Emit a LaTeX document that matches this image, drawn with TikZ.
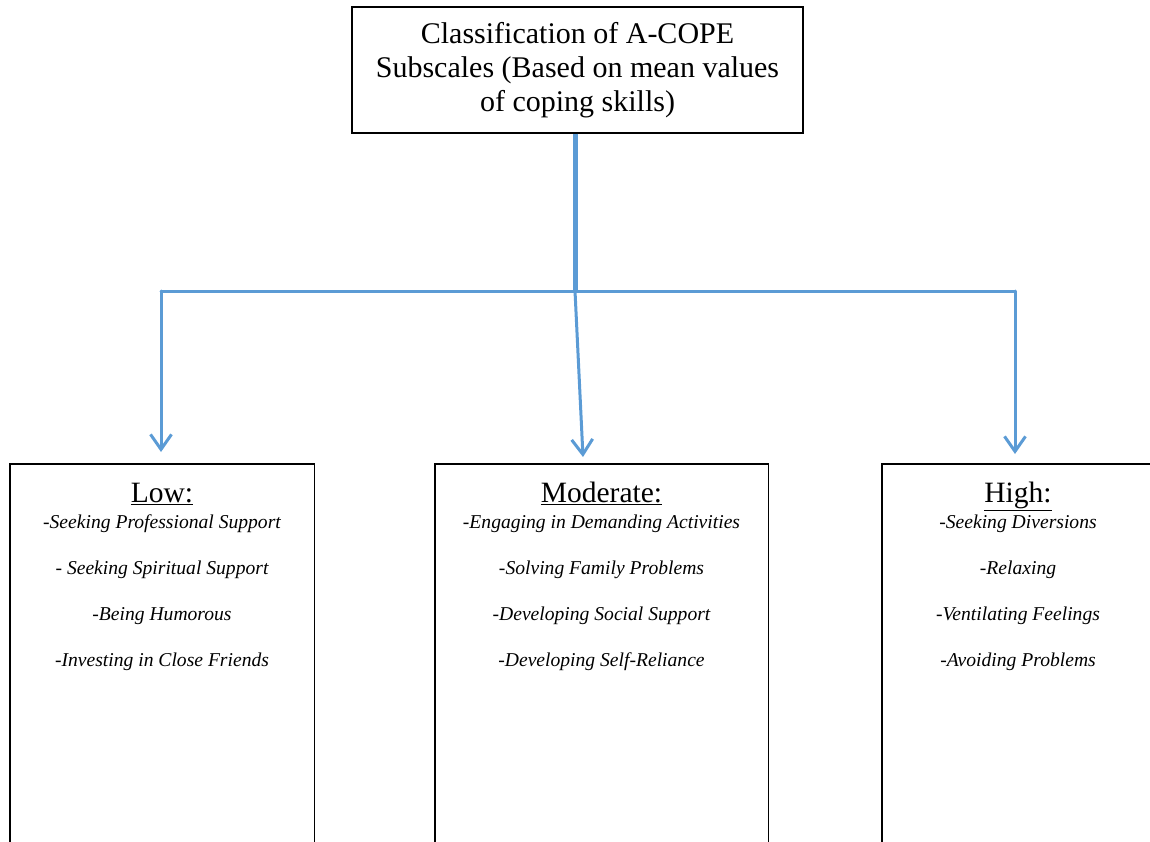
\documentclass[tikz,border=0pt]{standalone}
\usepackage{fontspec}
\setmainfont{Liberation Serif}
\usetikzlibrary{arrows.meta}
\definecolor{wblue}{RGB}{91,155,213}
\begin{document}
\begin{tikzpicture}[x=1pt,y=-1pt,
  boxline/.style={draw=black,line width=1.3pt},
  conn/.style={draw=wblue,line width=3pt,line cap=round,line join=round},
  trunk/.style={draw=wblue,line width=5pt},
  arr/.style={conn,-{Straight Barb[length=15pt,width=21pt,line width=3pt]}},
  headtxt/.style={anchor=base,inner sep=0pt,font=\fontsize{29.5}{34}\selectfont},
  itemtxt/.style={anchor=base,inner sep=0pt,font=\fontsize{19.6}{23}\selectfont\itshape},
  holder/.style={anchor=north west,inner sep=0pt,minimum height=378pt}]
\useasboundingbox (0,0) rectangle (1150,842);
% top box
\node[boxline,minimum width=451pt,minimum height=126pt,align=center,inner sep=0pt,
      font=\fontsize{30}{34}\selectfont] (top) at (577.5,70)
  {Classification of A-COPE\\Subscales (Based on mean values\\of coping skills)};
% lower boxes (open at the bottom, cut by the page edge)
\node[holder,minimum width=304pt] (low) at (10,464) {};
\node[holder,minimum width=333pt] (mod) at (435,464) {};
\node[holder,minimum width=300pt] (high) at (882,464) {};
\draw[boxline] (low.south west) -- (low.north west) -- (low.north east) -- (low.south east);
\draw[boxline] (mod.south west) -- (mod.north west) -- (mod.north east) -- (mod.south east);
\draw[boxline] (high.south west) -- (high.north west) -- (high.north east);
% headings
\node[headtxt] (lowh) at (162,502) {\underline{Low:}};
\node[headtxt] (modh) at (601.5,502) {\underline{Moderate:}};
\node[headtxt] (highh) at (1018,502) {\underline{High:}};
% items
\node[itemtxt] (l1) at (162,528) {-Seeking Professional Support};
\node[itemtxt] (l2) at (162,574) {- Seeking Spiritual Support};
\node[itemtxt] (l3) at (162,620) {-Being Humorous};
\node[itemtxt] (l4) at (162,666) {-Investing in Close Friends};
\node[itemtxt] (m1) at (601.5,528) {-Engaging in Demanding Activities};
\node[itemtxt] (m2) at (601.5,574) {-Solving Family Problems};
\node[itemtxt] (m3) at (601.5,620) {-Developing Social Support};
\node[itemtxt] (m4) at (601.5,666) {-Developing Self-Reliance};
\node[itemtxt] (h1) at (1018,528) {-Seeking Diversions};
\node[itemtxt] (h2) at (1018,574) {-Relaxing};
\node[itemtxt] (h3) at (1018,620) {-Ventilating Feelings};
\node[itemtxt] (h4) at (1018,666) {-Avoiding Problems};
% connectors
\coordinate (j) at (575,291);
\coordinate (jl) at (161,291);
\coordinate (jr) at (1015,291);
\coordinate (tl) at (161,452);
\coordinate (tm) at (583,457);
\coordinate (tr) at (1015,454);
\draw[trunk] (top.south -| j) -- (j);
\draw[conn] (jl) -- (jr);
\draw[arr] (jl) -- (tl);
\draw[arr] (j) -- (tm);
\draw[arr] (jr) -- (tr);
\end{tikzpicture}
\end{document}
